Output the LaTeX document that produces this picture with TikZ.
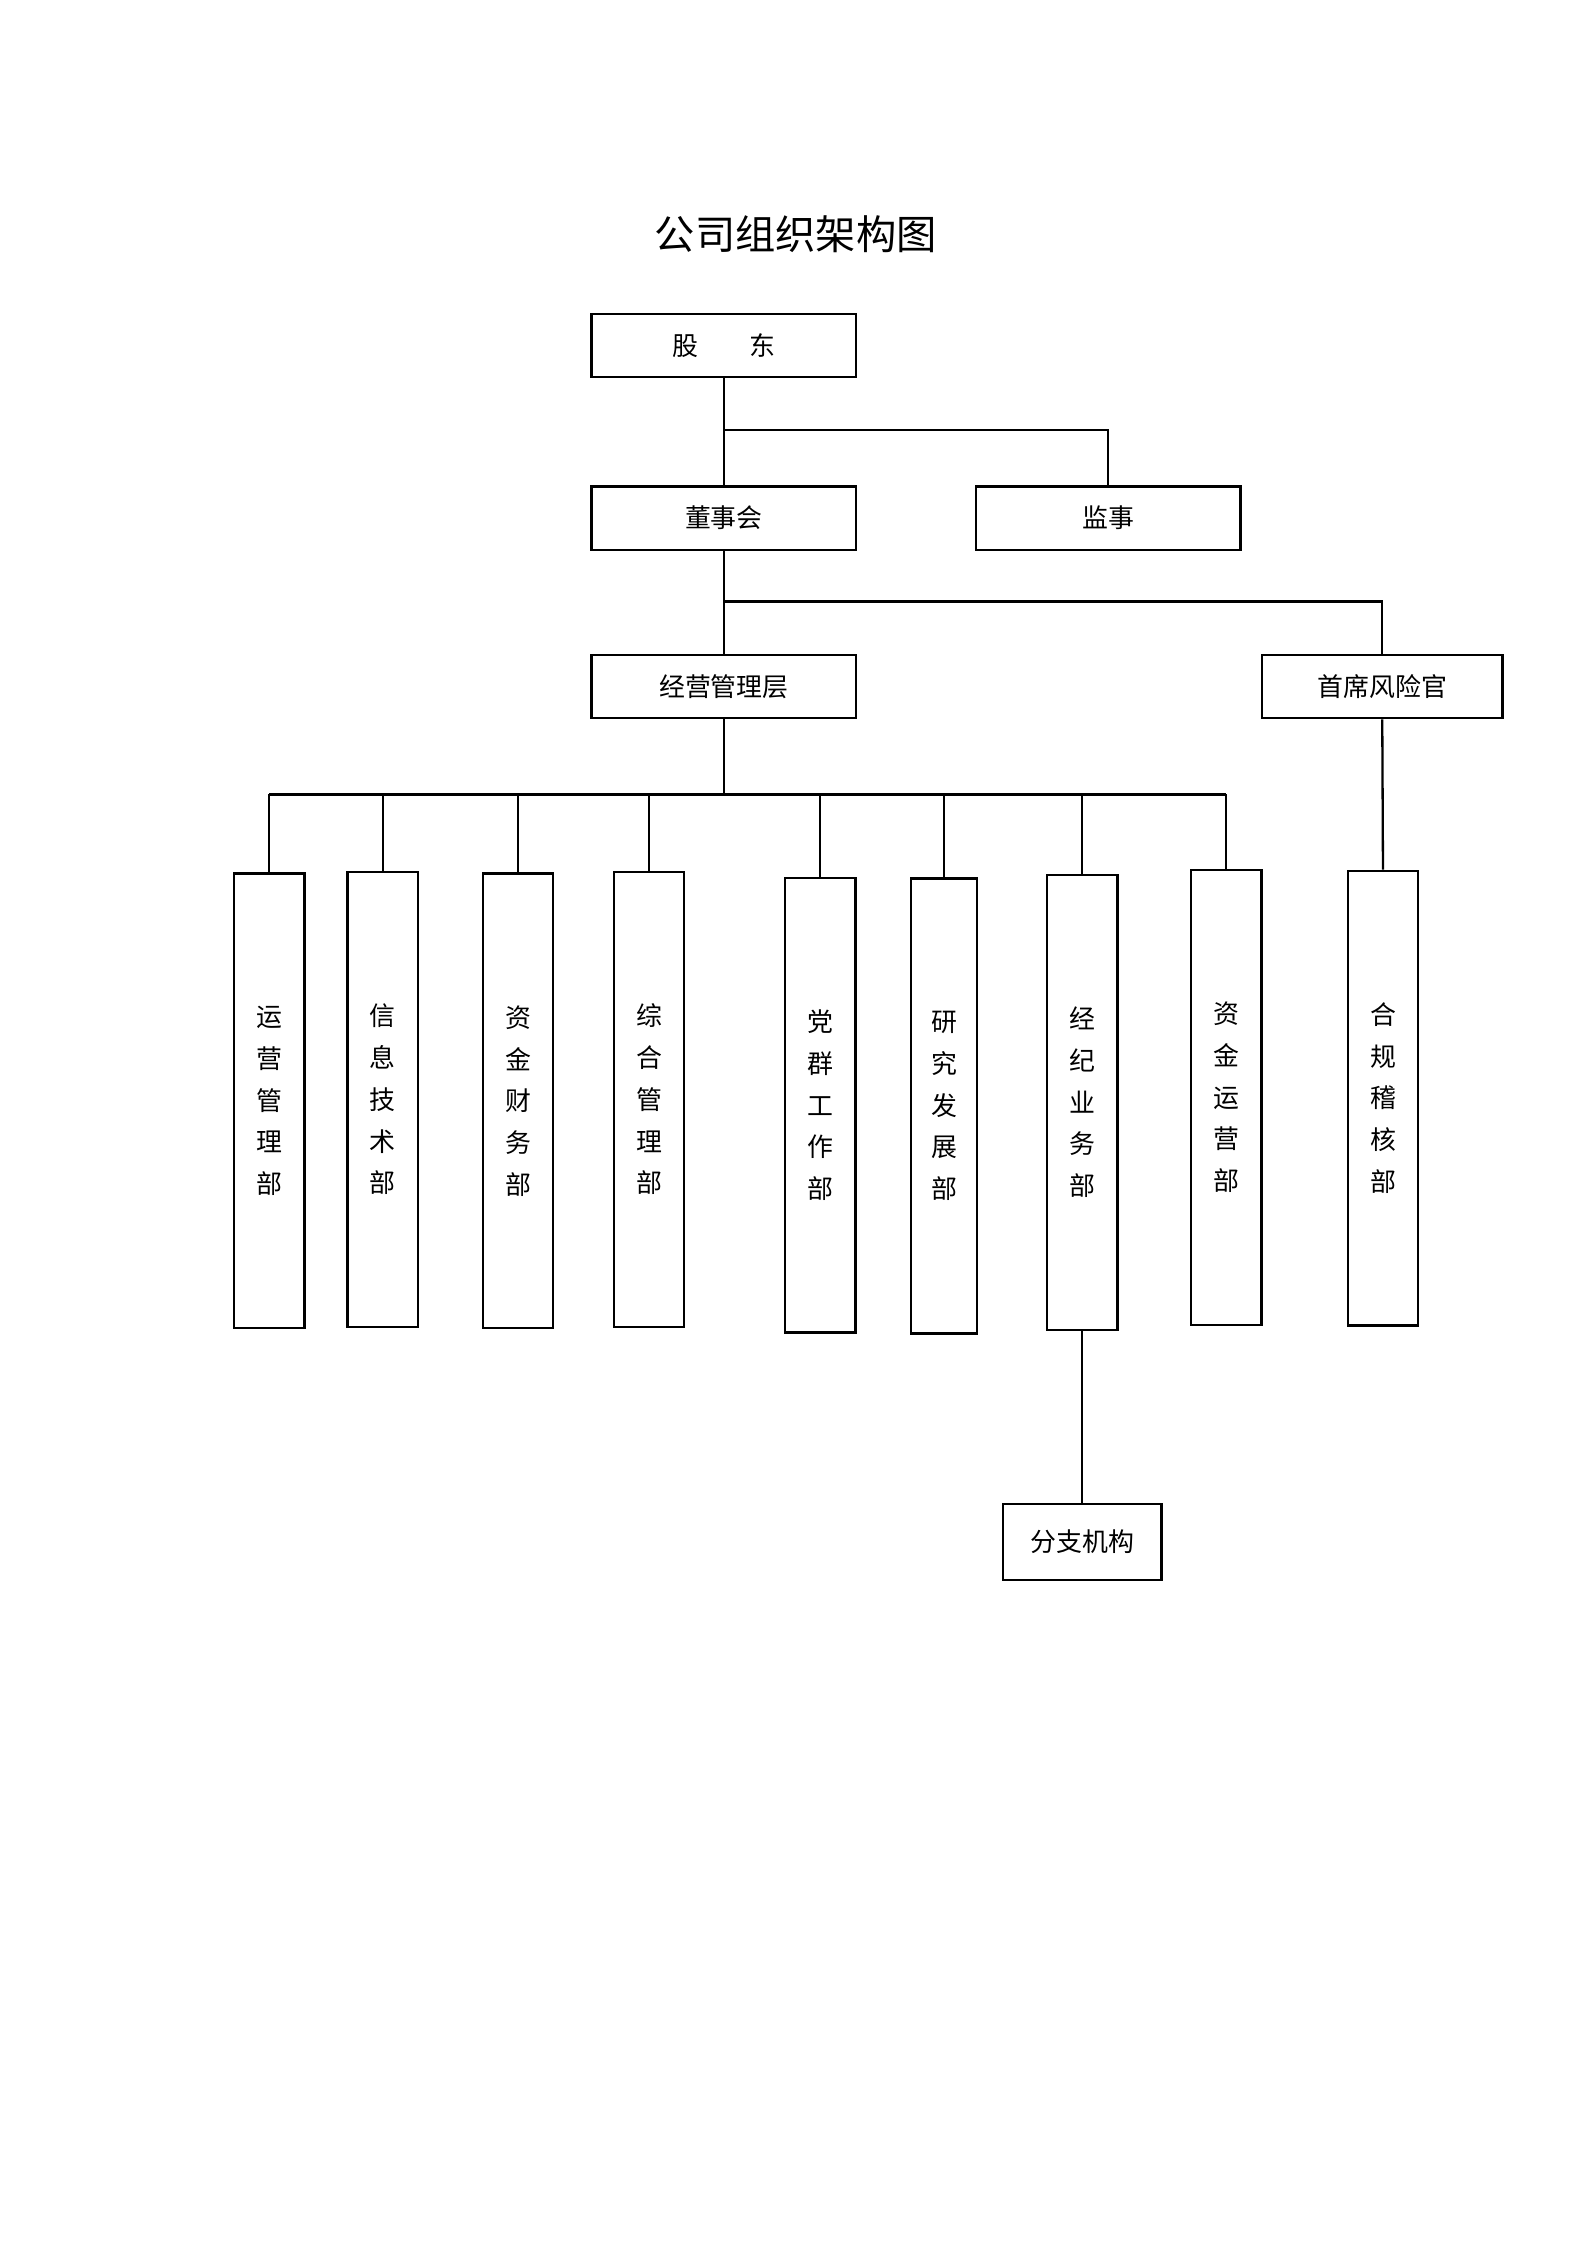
\documentclass[tikz,border=0pt]{standalone}
\usepackage{fontspec}
\setmainfont{Noto Sans CJK SC}
\begin{document}
\begin{tikzpicture}[x=0.5pt,y=-0.5pt,line width=0.8pt,
  bx/.style={draw,minimum width=92,minimum height=22,inner sep=0pt,font=\fontsize{9}{10}\selectfont},
  vb/.style={draw,minimum width=24.5,minimum height=158,inner sep=0pt,align=center,font=\fontsize{9}{14.5}\selectfont}]
\useasboundingbox (0,0) rectangle (1103,1560);
\node (title) at (553,163) {\fontsize{14}{16}\selectfont 公司组织架构图};
\node[bx] (gd) at (503,240) {股\hspace{2em}东};
\node[bx] (dsh) at (503,360) {董事会};
\node[bx] (js) at (770,360) {监事};
\node[bx] (jy) at (503,477) {经营管理层};
\node[bx,minimum width=83.5] (sx) at (960.5,477) {首席风险官};
\draw (gd.south) -- (dsh.north);
\coordinate (b1) at (503,299);
\draw (b1) -| (js.north);
\draw (dsh.south) -- (jy.north);
\coordinate (b2) at (503,418);
\draw (b2) -| (sx.north);
\coordinate (bus) at (503,552);
\draw (jy.south) -- (bus);
\node[vb] (d1) at (187,765) {运\\营\\管\\理\\部};
\node[vb] (d2) at (266,764) {信\\息\\技\\术\\部};
\node[vb] (d3) at (360,765) {资\\金\\财\\务\\部};
\node[vb] (d4) at (451,764) {综\\合\\管\\理\\部};
\node[vb] (d5) at (570,768) {党\\群\\工\\作\\部};
\node[vb,minimum width=23] (d6) at (656,768.5) {研\\究\\发\\展\\部};
\node[vb] (d7) at (752,766) {经\\纪\\业\\务\\部};
\node[vb] (d8) at (852,762.5) {资\\金\\运\\营\\部};
\node[vb] (d9) at (961,763) {合\\规\\稽\\核\\部};
\coordinate (bl) at (187,552);
\coordinate (br) at (852,552);
\draw (bl) -- (br);
\foreach \n in {d1,d2,d3,d4,d5,d6,d7,d8}{\draw (\n.north) -- (\n.north |- bus);}
\draw (sx.south) -- (d9.north);
\node[bx,minimum width=55,minimum height=26.5] (fz) at (752,1071.5) {分支机构};
\draw (d7.south) -- (fz.north);
\end{tikzpicture}
\end{document}
